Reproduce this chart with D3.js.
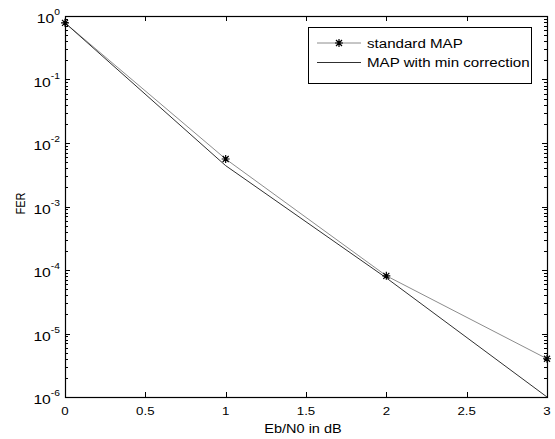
<!DOCTYPE html>
<html>
<head>
<meta charset="utf-8">
<script src="https://d3js.org/d3.v7.min.js"></script>
<style>
  body { margin: 0; background: #fff; }
  svg { display: block; font-family: "Liberation Sans", Arial, sans-serif; }
</style>
</head>
<body>
<svg id="canvas"></svg>
<script>
"use strict"

// Chart data
const ebn0 = [0, 1, 2, 3];
const standardMap = [0.78, 5.6e-3, 8.1e-5, 4.0e-6];
const minCorrection = [0.78, 4.4e-3, 7.5e-5, 1.0e-6];
const xTicks = [0, 0.5, 1, 1.5, 2, 2.5, 3];
const yExponents = [0, -1, -2, -3, -4, -5, -6];
const seriesNames = ["standard MAP", "MAP with min correction"];

const width = 555, height = 439;
const margin = { left: 65, right: 8, top: 16, bottom: 42 };
// the picture is a little wider than tall, text looks stretched sideways
const stretch = 1.21;

const svg = d3.select("#canvas").attr("width", width).attr("height", height);

const x = d3.scaleLinear().domain([0, 3])
    .range([margin.left, width - margin.right]);
const y = d3.scaleLog().domain([1e-6, 1])
    .range([height - margin.bottom, margin.top]);

const x0 = x.range()[0], x1 = x.range()[1];
const y0 = y.range()[0], y1 = y.range()[1];

// Text placed at (px, py) and stretched horizontally
function label(g, px, py, rotate) {
    return g.append("g")
        .attr("transform", `translate(${px},${py})` + (rotate ? ` rotate(${rotate})` : "") +
            (rotate ? ` scale(1,${stretch})` : ` scale(${stretch},1)`))
        .append("text");
}

// Ticks (inward, on all four sides)
const ticks = svg.append("g").attr("stroke", "#000").attr("stroke-width", 1);
for (const t of xTicks) {
    const px = Math.round(x(t)) + 0.5;
    ticks.append("line").attr("x1", px).attr("x2", px).attr("y1", y0).attr("y2", y0 - 5);
    ticks.append("line").attr("x1", px).attr("x2", px).attr("y1", y1).attr("y2", y1 + 5);
}
for (let e = -6; e <= 0; e++) {
    for (let m = 1; m <= 9; m++) {
        if (e === 0 && m > 1) break;
        const v = m * Math.pow(10, e);
        const py = Math.round(y(v)) + 0.5;
        const len = m === 1 ? 5 : 3;
        ticks.append("line").attr("x1", x0).attr("x2", x0 + len).attr("y1", py).attr("y2", py);
        ticks.append("line").attr("x1", x1).attr("x2", x1 - len).attr("y1", py).attr("y2", py);
    }
}

// Axis box
svg.append("rect")
    .attr("x", x0 + 0.5).attr("y", y1 + 0.5)
    .attr("width", x1 - x0).attr("height", y0 - y1)
    .attr("fill", "none").attr("stroke", "#000").attr("stroke-width", 1.2);

// X tick labels
const xl = svg.append("g");
for (const t of xTicks) {
    label(xl, x(t), y0 + 18).attr("text-anchor", "middle").attr("font-size", 11).text(t);
}

// Y tick labels with superscript exponents
const yl = svg.append("g");
for (const e of yExponents) {
    const t = label(yl, x0 - 5, y(Math.pow(10, e)) + 7)
        .attr("text-anchor", "end").attr("font-size", 13);
    t.append("tspan").text("10");
    t.append("tspan").attr("dy", -8).attr("font-size", 8.5).text(e);
}

// Axis labels
label(svg, (x0 + x1) / 2 - 3, height - 6)
    .attr("text-anchor", "middle").attr("font-size", 12).text("Eb/N0 in dB");
label(svg, 25, (y0 + y1) / 2 - 3, -90)
    .attr("text-anchor", "middle").attr("font-size", 11).text("FER");

// Lines
const line = d3.line().x((d, i) => x(ebn0[i])).y(d => y(d));
svg.append("path").datum(standardMap).attr("d", line)
    .attr("fill", "none").attr("stroke", "#8c8c8c").attr("stroke-width", 1);
svg.append("path").datum(minCorrection).attr("d", line)
    .attr("fill", "none").attr("stroke", "#303030").attr("stroke-width", 1);

// Asterisk markers
function asterisk(g, cx, cy) {
    const r = 4, rd = 3;
    g.append("path")
        .attr("d", `M${cx - r},${cy}L${cx + r},${cy}M${cx},${cy - r}L${cx},${cy + r}` +
            `M${cx - rd},${cy - rd}L${cx + rd},${cy + rd}M${cx - rd},${cy + rd}L${cx + rd},${cy - rd}`)
        .attr("stroke", "#000").attr("stroke-width", 1.2).attr("fill", "none");
}
const markers = svg.append("g");
standardMap.forEach((v, i) => asterisk(markers, x(ebn0[i]), y(v)));

// Legend
const lg = svg.append("g");
lg.append("rect").attr("x", 308.5).attr("y", 27.5).attr("width", 223).attr("height", 56)
    .attr("fill", "#fff").attr("stroke", "#000").attr("stroke-width", 1);
const legendColors = ["#8c8c8c", "#303030"];
seriesNames.forEach((name, i) => {
    const ly = 43 + i * 19.5;
    lg.append("line").attr("x1", 317).attr("x2", 361).attr("y1", ly).attr("y2", ly)
        .attr("stroke", legendColors[i]).attr("stroke-width", 1);
    if (i === 0) asterisk(lg, 339, ly);
    label(lg, 367, ly + 4.5).attr("font-size", 12.5).text(name);
});
</script>
</body>
</html>
